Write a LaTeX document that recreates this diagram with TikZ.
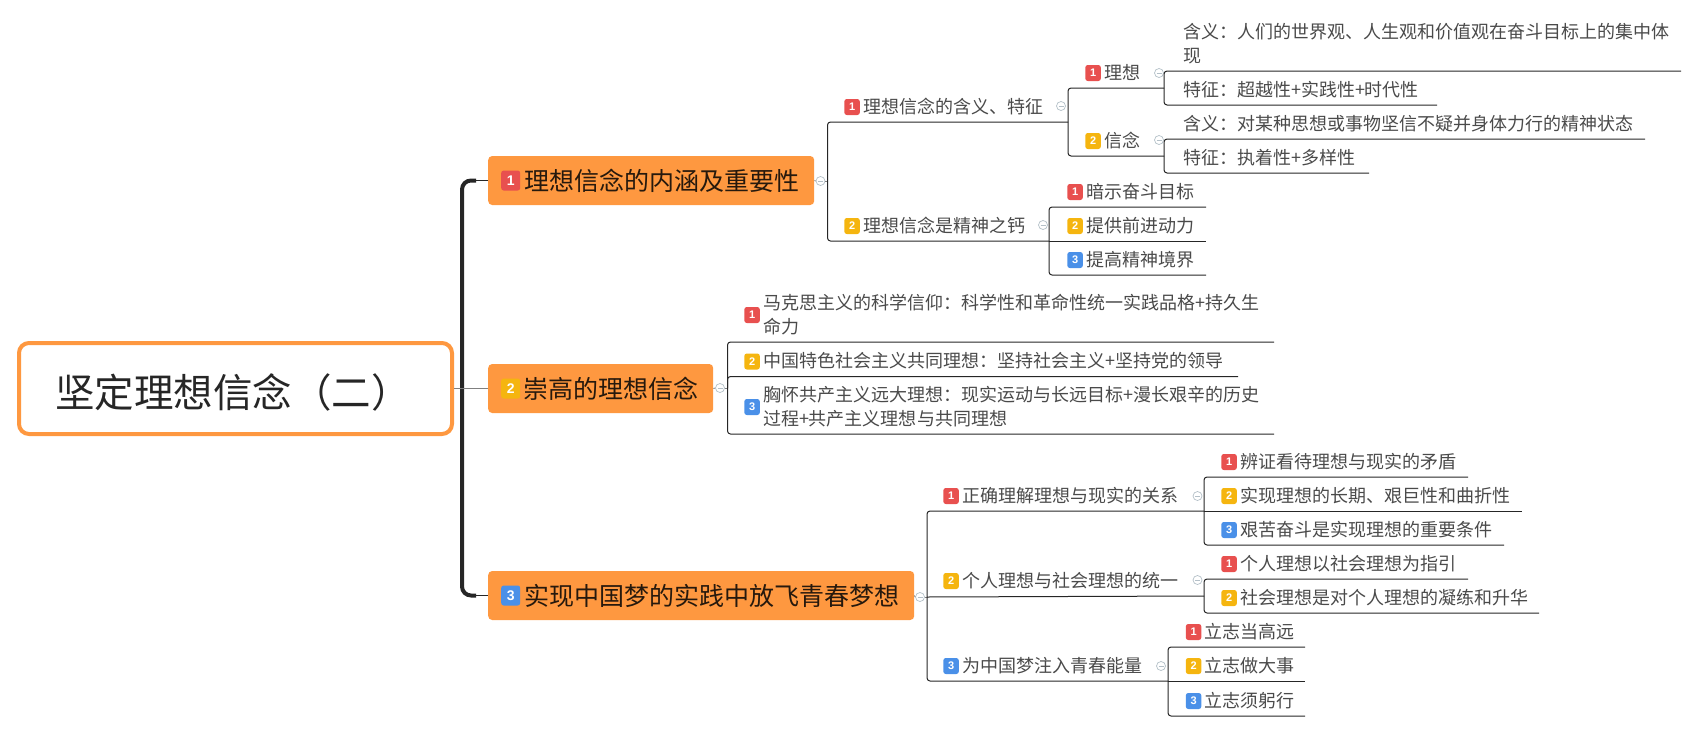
\documentclass[tikz,border=0pt]{standalone}
\usepackage{fontspec}
\setmainfont{Noto Sans CJK SC}
\newfontfamily\badgefont{Liberation Sans}
\usepackage{tikz}
\usetikzlibrary{positioning}
\usepackage{xcolor}
\definecolor{mainorange}{HTML}{FE9840}
\definecolor{badgered}{HTML}{E8504F}
\definecolor{badgeyellow}{HTML}{F5B50F}
\definecolor{badgeblue}{HTML}{4A90E8}
\definecolor{linedark}{HTML}{262626}
\definecolor{textgray}{HTML}{4A4A4A}
\definecolor{foldgray}{HTML}{B4C0C8}

\begin{document}
\begin{tikzpicture}[
    x=1pt, y=-1pt,
    rootbox/.style={rectangle, rounded corners=10pt, draw=mainorange, line width=4pt, fill=white, minimum height=91pt, text width=361pt, inner xsep=36pt, text height=42pt, text depth=4pt, align=left, text=black!85, font=\fontsize{39.5}{46}\selectfont},
    mainbox/.style={rectangle, rounded corners=4pt, fill=mainorange, minimum height=49pt, inner xsep=15pt, inner ysep=0pt, align=right, text=black!80!brown, font=\fontsize{25}{30}\selectfont},
    topic/.style={rectangle, anchor=south west, inner xsep=0pt, inner ysep=6pt, outer sep=0pt, text height=15pt, text depth=3pt, align=left, text=textgray, font=\fontsize{18}{24}\selectfont},
    twolines/.style={topic, text depth=27pt},
    badge/.style={rectangle, rounded corners=2.5pt, minimum width=15.5pt, minimum height=16pt, inner sep=0pt, text=white, font=\badgefont\bfseries\fontsize{11}{11}\selectfont},
    bigbadge/.style={badge, minimum width=19pt, minimum height=20pt, font=\badgefont\bfseries\fontsize{14}{14}\selectfont},
    fold/.style={circle, draw=foldgray, line width=0.7pt, fill=white, minimum size=9pt, inner sep=0pt, text=foldgray},
    branch/.style={draw=linedark, line width=1pt, rounded corners=3pt},
    stub/.style={draw=gray, line width=0.8pt},
    spine/.style={draw=linedark, line width=4pt, rounded corners=9pt}
  ]
    \useasboundingbox (0,0) rectangle (1697,731);

    \node[rootbox] (root) at (235.5,388.5) {坚定理想信念（二）};
    \node[mainbox, text width=296pt, anchor=west] (box1) at (488,180.5) {理想信念的内涵及重要性};
    \node[mainbox, text width=195pt, right=34pt of root] (box2) {崇高的理想信念};
    \node[mainbox, text width=396pt, anchor=west] (box3) at (488,595.5) {实现中国梦的实践中放飞青春梦想};
    \node[bigbadge, fill=badgered, right=13pt of box1.west] (ibox1) {1};
    \node[bigbadge, fill=badgeyellow, right=13pt of box2.west] (ibox2) {2};
    \node[bigbadge, fill=badgeblue, right=13pt of box3.west] (ibox3) {3};

    \node[topic, text width=205pt] (t1) at (863,122) {理想信念的含义、特征};
    \node[topic, text width=186pt] (t2) at (863,241) {理想信念是精神之钙};
    \node[topic, text width=60pt] (t11) at (1104,88) {理想};
    \node[topic, text width=60pt] (t12) at (1104,156) {信念};
    \node[twolines, text width=498pt] (l111) at (1183,71) {含义：人们的世界观、人生观和价值观在奋斗目标上的集中体\\现};
    \node[topic, text width=254pt] (l112) at (1183,105) {特征：超越性+实践性+时代性};
    \node[topic, text width=462pt] (l121) at (1183,139) {含义：对某种思想或事物坚信不疑并身体力行的精神状态};
    \node[topic, text width=186pt] (l122) at (1183,173) {特征：执着性+多样性};
    \node[topic, text width=120pt] (t21) at (1086,207) {暗示奋斗目标};
    \node[topic, text width=120pt] (t22) at (1086,241) {提供前进动力};
    \node[topic, text width=120pt] (t23) at (1086,275) {提高精神境界};

    \node[twolines, text width=511pt] (u1) at (763,342) {马克思主义的科学信仰：科学性和革命性统一实践品格+持久生\\命力};
    \node[topic, text width=475pt] (u2) at (763,376.5) {中国特色社会主义共同理想：坚持社会主义+坚持党的领导};
    \node[twolines, text width=511pt] (u3) at (763,434) {胸怀共产主义远大理想：现实运动与长远目标+漫长艰辛的历史\\过程+共产主义理想与共同理想};

    \node[topic, text width=242pt] (v1) at (962,511) {正确理解理想与现实的关系};
    \node[topic, text width=242pt] (v2) at (962,596) {个人理想与社会理想的统一};
    \node[topic, text width=206pt] (v3) at (962,681) {为中国梦注入青春能量};
    \node[topic, text width=228pt] (w11) at (1240,477) {辨证看待理想与现实的矛盾};
    \node[topic, text width=282pt] (w12) at (1240,511) {实现理想的长期、艰巨性和曲折性};
    \node[topic, text width=264pt] (w13) at (1240,545) {艰苦奋斗是实现理想的重要条件};
    \node[topic, text width=228pt] (w21) at (1240,579) {个人理想以社会理想为指引};
    \node[topic, text width=299pt] (w22) at (1240,613) {社会理想是对个人理想的凝练和升华};
    \node[topic, text width=100.5pt] (w31) at (1204.5,647) {立志当高远};
    \node[topic, text width=100.5pt] (w32) at (1204.5,681) {立志做大事};
    \node[topic, text width=100.5pt] (w33) at (1204.5,716) {立志须躬行};

    \node[badge, fill=badgered, left=3pt of t1] (it1) {1};
    \node[badge, fill=badgeyellow, left=3pt of t2] (it2) {2};
    \node[badge, fill=badgered, left=3pt of t11] (it11) {1};
    \node[badge, fill=badgeyellow, left=3pt of t12] (it12) {2};
    \node[badge, fill=badgered, left=3pt of t21] (it21) {1};
    \node[badge, fill=badgeyellow, left=3pt of t22] (it22) {2};
    \node[badge, fill=badgeblue, left=3pt of t23] (it23) {3};
    \node[badge, fill=badgered, left=3pt of u1] (iu1) {1};
    \node[badge, fill=badgeyellow, left=3pt of u2] (iu2) {2};
    \node[badge, fill=badgeblue, left=3pt of u3] (iu3) {3};
    \node[badge, fill=badgered, left=3pt of v1] (iv1) {1};
    \node[badge, fill=badgeyellow, left=3pt of v2] (iv2) {2};
    \node[badge, fill=badgeblue, left=3pt of v3] (iv3) {3};
    \node[badge, fill=badgered, left=3pt of w11] (iw11) {1};
    \node[badge, fill=badgeyellow, left=3pt of w12] (iw12) {2};
    \node[badge, fill=badgeblue, left=3pt of w13] (iw13) {3};
    \node[badge, fill=badgered, left=3pt of w21] (iw21) {1};
    \node[badge, fill=badgeyellow, left=3pt of w22] (iw22) {2};
    \node[badge, fill=badgered, left=3pt of w31] (iw31) {1};
    \node[badge, fill=badgeyellow, left=3pt of w32] (iw32) {2};
    \node[badge, fill=badgeblue, left=3pt of w33] (iw33) {3};

    \node[fold] (c1) at (820.5,181) {\rule{5pt}{0.7pt}};
    \node[fold] (c2) at (720,388) {\rule{5pt}{0.7pt}};
    \node[fold] (c3) at (920,597) {\rule{5pt}{0.7pt}};
    \node[fold] (c11) at (1061,106) {\rule{5pt}{0.7pt}};
    \node[fold] (c12) at (1043,225) {\rule{5pt}{0.7pt}};
    \node[fold] (c111) at (1159,73) {\rule{5pt}{0.7pt}};
    \node[fold] (c112) at (1159,140) {\rule{5pt}{0.7pt}};
    \node[fold] (c31) at (1197.5,496) {\rule{5pt}{0.7pt}};
    \node[fold] (c32) at (1197.5,580) {\rule{5pt}{0.7pt}};
    \node[fold] (c33) at (1161,666) {\rule{5pt}{0.7pt}};

    \coordinate (sp) at (462,388);
    \coordinate (sa) at (476,180.5);
    \coordinate (sb) at (476,595.5);
    \coordinate (j1) at (827.5,181);
    \coordinate (j2) at (727.5,388);
    \coordinate (j3) at (927,597);

    \draw[spine] (sa) -| (sp) |- (sb);
    \draw[branch] (sa) -- (box1.west);
    \draw[branch] (sb) -- (box3.west);
    \draw[stub] (root.east) -- (box2.west);

    \draw[stub] (box1.east) -- (c1.west);
    \draw[stub] (box2.east) -- (c2.west);
    \draw[stub] (box3.east) -- (c3.west);
    \draw[stub] (c1.east) -- (j1);
    \draw[stub] (c2.east) -- (j2);
    \draw[stub] (c3.east) -- (j3);

    \draw[branch] (j1) |- (t1.south east);
    \draw[branch] (j1) |- (t2.south east);
    \draw[branch] (t1.south east) |- (t11.south east);
    \draw[branch] (t1.south east) |- (t12.south east);
    \draw[branch] (t11.south east) |- (l111.south east);
    \draw[branch] (t11.south east) |- (l112.south east);
    \draw[branch] (t12.south east) |- (l121.south east);
    \draw[branch] (t12.south east) |- (l122.south east);
    \draw[branch] (t2.south east) |- (t21.south east);
    \draw[branch] (t2.south east) -- (t22.south east);
    \draw[branch] (t2.south east) |- (t23.south east);

    \draw[branch] (j2) |- (u1.south east);
    \draw[branch] (j2) |- (u2.south east);
    \draw[branch] (j2) |- (u3.south east);

    \draw[branch] (j3) |- (v1.south east);
    \draw[branch] (j3) -- (v2.south east);
    \draw[branch] (j3) |- (v3.south east);
    \draw[branch] (v1.south east) |- (w11.south east);
    \draw[branch] (v1.south east) -- (w12.south east);
    \draw[branch] (v1.south east) |- (w13.south east);
    \draw[branch] (v2.south east) |- (w21.south east);
    \draw[branch] (v2.south east) |- (w22.south east);
    \draw[branch] (v3.south east) |- (w31.south east);
    \draw[branch] (v3.south east) -- (w32.south east);
    \draw[branch] (v3.south east) |- (w33.south east);
  \end{tikzpicture}
\end{document}
